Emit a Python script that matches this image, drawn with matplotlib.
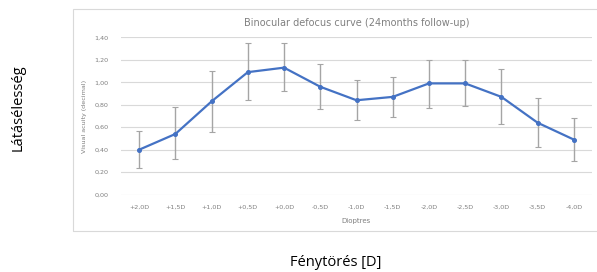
import matplotlib
matplotlib.use("Agg")
from matplotlib import pyplot as plt
from matplotlib.patches import Rectangle

# dioptre steps, mean visual acuity and the ends of the error bars
dioptres = ["+2,0D", "+1,5D", "+1,0D", "+0,5D", "+0,0D", "-0,5D", "-1,0D",
            "-1,5D", "-2,0D", "-2,5D", "-3,0D", "-3,5D", "-4,0D"]
acuity = [0.40, 0.54, 0.83, 1.09, 1.13, 0.96, 0.84, 0.87, 0.99, 0.99, 0.87, 0.64, 0.49]
err_top = [0.57, 0.78, 1.10, 1.35, 1.35, 1.16, 1.02, 1.05, 1.20, 1.20, 1.12, 0.86, 0.68]
err_bottom = [0.24, 0.32, 0.56, 0.84, 0.92, 0.76, 0.66, 0.69, 0.77, 0.79, 0.63, 0.42, 0.30]
y_ticks = [0.0, 0.2, 0.4, 0.6, 0.8, 1.0, 1.2, 1.4]

W, H = 597, 272
fig = plt.figure(figsize=(W / 100, H / 100), dpi=100)
fig.patch.set_facecolor("white")

### ### ### embedded chart frame ### ### ###
frame = Rectangle((73 / W, 1 - 231 / H), (W - 73) / W + 0.01, (231 - 9) / H,
                  transform=fig.transFigure, facecolor="none",
                  edgecolor="#d9d9d9", linewidth=0.8, zorder=-1)
fig.patches.append(frame)

ax = fig.add_axes([121 / W, 1 - 194.7 / H, (592 - 121) / W, (194.7 - 37.3) / H])
ax.set_facecolor("none")
ax.set_zorder(2)

x = list(range(len(dioptres)))
lower = [a - b for a, b in zip(acuity, err_bottom)]
upper = [t - a for a, t in zip(acuity, err_top)]
ax.errorbar(x, acuity, yerr=[lower, upper], fmt="none", ecolor="#a5a5a5",
            elinewidth=1.0, capsize=2.2, capthick=0.8, zorder=2)
ax.plot(x, acuity, color="#4472c4", linewidth=1.6, marker="o",
        markersize=2.6, zorder=3)

ax.set_xlim(-0.5, len(dioptres) - 0.5)
ax.set_ylim(0, 1.4)
ax.set_yticks(y_ticks)
ax.set_yticklabels([f"{v:.2f}".replace(".", ",") for v in y_ticks])
ax.set_xticks(x)
ax.set_xticklabels(dioptres)
ax.grid(axis="y", color="#d9d9d9", linewidth=0.8)
ax.set_axisbelow(True)
for s in ax.spines.values():
    s.set_visible(False)
ax.tick_params(length=0, labelsize=4.6, labelcolor="#7f7f7f")
ax.tick_params(axis="y", pad=9)
ax.tick_params(axis="x", pad=7)

ax.set_xlabel("Dioptres", fontsize=5, color="#7f7f7f", labelpad=6)
ax.set_ylabel("Visual acuity (decimal)", fontsize=4.6, color="#7f7f7f", labelpad=5)
ax.set_title("Binocular defocus curve (24months follow-up)", fontsize=7,
             color="#808080", pad=8)

### ### ### outer labels ### ### ###
fig.text(18 / W, 1 - 108 / H, "Látásélesség", rotation=90, fontsize=10.5,
         family="Open Sans", ha="center", va="center")
fig.text(336 / W, 1 - 262 / H, "Fénytörés [D]", fontsize=10.5,
         family="Open Sans", ha="center", va="center")

fig.savefig("out.png", dpi=100)
